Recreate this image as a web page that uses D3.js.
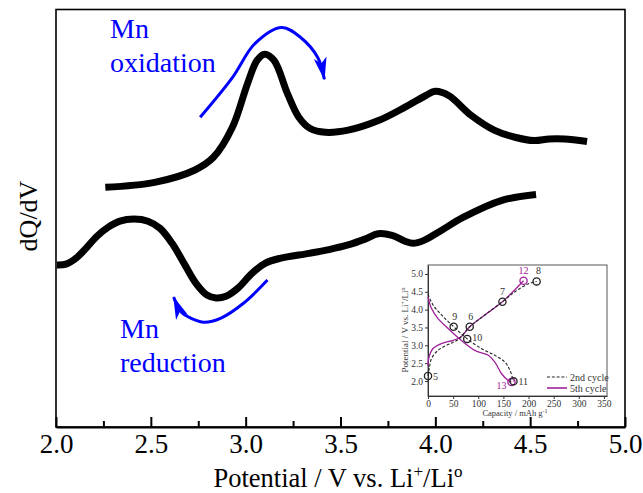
<!DOCTYPE html>
<html>
<head>
<meta charset="utf-8">
<script src="https://cdn.jsdelivr.net/npm/d3@7"></script>
<style>
  html, body { margin: 0; padding: 0; background: #fff; }
  svg { display: block; }
  text { font-family: "Liberation Serif", "Times New Roman", serif; }
</style>
</head>
<body>
<svg id="chart" width="643" height="493"></svg>
<script>
// ---------------- DATA ----------------
// Main dQ/dV panel (x: potential / V, y: dQ/dV in arbitrary units)
const xTicks = [2.0, 2.5, 3.0, 3.5, 4.0, 4.5, 5.0];
const xMinorTicks = [2.25, 2.75, 3.25, 3.75, 4.25, 4.75];

const oxV = [2.26, 2.52, 2.73, 2.83, 2.93, 3.01, 3.06, 3.10, 3.15, 3.22, 3.28, 3.34, 3.42, 3.54, 3.70, 3.84, 3.95, 4.00, 4.07, 4.19, 4.31, 4.42, 4.52, 4.60, 4.68, 4.80];
const oxY = [57.4, 58.6, 61.5, 64.6, 71.8, 82.3, 87.8, 89.3, 87.8, 79.9, 74.2, 71.5, 70.6, 71.1, 73.4, 76.6, 79.4, 80.4, 79.4, 74.6, 71.1, 69.4, 68.6, 69.0, 69.0, 68.4];

const redV = [2.005, 2.053, 2.105, 2.158, 2.216, 2.274, 2.337, 2.411, 2.485, 2.548, 2.612, 2.675, 2.738, 2.796, 2.844, 2.896, 2.960, 3.033, 3.102, 3.181, 3.334, 3.440, 3.540, 3.629, 3.698, 3.772, 3.840, 3.882, 3.940, 4.025, 4.146, 4.351, 4.531];
const redY = [38.8, 39.0, 40.4, 42.8, 45.7, 47.8, 49.3, 49.8, 49.3, 47.6, 44.0, 39.2, 34.4, 31.6, 30.9, 31.3, 33.3, 36.8, 39.2, 40.4, 41.6, 42.5, 43.6, 45.0, 46.3, 45.9, 44.5, 44.0, 44.7, 46.9, 50.2, 54.3, 55.7];

// annotation arrows (data units)
const oxArrowV = [2.76, 2.93, 3.05, 3.19, 3.29, 3.38, 3.415];
const oxArrowY = [74.2, 83.7, 91.9, 95.7, 93.3, 88.5, 83.3];
const redArrowV = [3.115, 2.99, 2.87, 2.78, 2.71, 2.665, 2.62];
const redArrowY = [35.2, 29.7, 26.1, 25.1, 26.1, 27.3, 31.1];

// Inset: charge/discharge curves (capacity / mAh g-1, potential / V)
const insetXTicks = [0, 50, 100, 150, 200, 250, 300, 350];
const insetYTicks = [2.0, 2.5, 3.0, 3.5, 4.0, 4.5, 5.0];

const c2ChargeCap = [0, 3, 7, 20, 40, 60, 83, 113, 148, 173, 199, 216];
const c2ChargeV   = [2.14, 2.40, 2.63, 2.86, 3.02, 3.16, 3.52, 3.85, 4.22, 4.50, 4.72, 4.79];
const c2DisCap = [0, 10, 27, 51, 78, 106, 133, 153, 163, 170];
const c2DisV   = [4.43, 4.13, 3.85, 3.52, 3.18, 2.91, 2.72, 2.53, 2.30, 1.99];

const c5ChargeCap = [0, 2, 10, 27, 50, 66, 83, 113, 148, 190];
const c5ChargeV   = [2.42, 2.67, 2.91, 3.05, 3.14, 3.24, 3.52, 3.85, 4.22, 4.81];
const c5DisCap = [0, 7, 20, 40, 66, 93, 120, 133, 146, 159, 166];
const c5DisV   = [4.36, 4.03, 3.75, 3.47, 3.14, 2.86, 2.72, 2.53, 2.21, 2.02, 1.97];

const pointLabels = ["5", "9", "6", "10", "7", "12", "8", "13", "11"];
const pointCap    = [0, 51, 83, 78, 148, 190, 216, 166, 170];
const pointV      = [2.14, 3.52, 3.52, 3.18, 4.22, 4.81, 4.79, 1.97, 1.99];
const pointCycle  = ["2nd", "2nd", "2nd", "2nd", "2nd", "5th", "2nd", "5th", "2nd"];

const legendLabels = ["2nd cycle", "5th cycle"];

// ---------------- DRAW ----------------
const svg = d3.select("#chart");
const FONT = '"Liberation Serif", "Times New Roman", serif';
const BLUE = "#0000ff";
const PURPLE = "#a0209c";

const x = d3.scaleLinear().domain([2, 5]).range([56, 625]);
const y = d3.scaleLinear().domain([0, 100]).range([427, 9.5]);

// frame
svg.append("rect")
  .attr("x", x.range()[0]).attr("y", y.range()[1])
  .attr("width", x.range()[1] - x.range()[0])
  .attr("height", y.range()[0] - y.range()[1])
  .attr("fill", "none").attr("stroke", "#000").attr("stroke-width", 1.6);

// x axis (ticks inward)
const xAxis = d3.axisBottom(x).tickValues(xTicks).tickFormat(d3.format(".1f"))
  .tickSizeInner(-10).tickSizeOuter(0).tickPadding(7);
const gx = svg.append("g").attr("transform", `translate(0,${y.range()[0]})`).call(xAxis);
gx.select(".domain").attr("stroke-width", 2.2);
gx.selectAll(".tick line").attr("stroke-width", 2);
gx.selectAll(".tick text").attr("font-family", FONT).attr("font-size", 27).attr("fill", "#000");
const gxm = svg.append("g").attr("transform", `translate(0,${y.range()[0]})`)
  .call(d3.axisBottom(x).tickValues(xMinorTicks).tickFormat("").tickSizeInner(-6).tickSizeOuter(0));
gxm.select(".domain").remove();
gxm.selectAll(".tick line").attr("stroke-width", 2);

// axis titles
const xt = svg.append("text").attr("x", 338).attr("y", 487).attr("text-anchor", "middle")
  .attr("font-family", FONT).attr("font-size", 26.5).attr("fill", "#000");
xt.append("tspan").text("Potential / V vs. Li");
xt.append("tspan").attr("dy", -10).attr("font-size", 17).text("+");
xt.append("tspan").attr("dy", 10).text("/Li");
xt.append("tspan").attr("dy", -10).attr("font-size", 17).text("o");

svg.append("text").attr("transform", "translate(37,216) rotate(-90)")
  .attr("text-anchor", "middle").attr("font-family", FONT).attr("font-size", 26)
  .attr("fill", "#000").text("dQ/dV");

// curves
const lineMain = d3.line().x(d => x(d[0])).y(d => y(d[1])).curve(d3.curveCatmullRom.alpha(0.5));
svg.append("path").datum(oxV.map((v, i) => [v, oxY[i]]))
  .attr("d", lineMain).attr("fill", "none").attr("stroke", "#000").attr("stroke-width", 7)
  .attr("stroke-linejoin", "round");
svg.append("path").datum(redV.map((v, i) => [v, redY[i]]))
  .attr("d", lineMain).attr("fill", "none").attr("stroke", "#000").attr("stroke-width", 7)
  .attr("stroke-linejoin", "round");

// arrow marker
const defs = svg.append("defs");
defs.append("marker").attr("id", "arrow").attr("markerUnits", "userSpaceOnUse")
  .attr("viewBox", "-24 -8 26 16").attr("refX", 0).attr("refY", 0)
  .attr("markerWidth", 26).attr("markerHeight", 16).attr("orient", "auto")
  .append("path").attr("d", "M1,0 L-22,-6.5 L-16,0 L-22,6.5 Z").attr("fill", BLUE);

const arrowLine = d3.line().x(d => x(d[0])).y(d => y(d[1])).curve(d3.curveCatmullRom.alpha(0.5));
svg.append("path").datum(oxArrowV.map((v, i) => [v, oxArrowY[i]]))
  .attr("d", arrowLine).attr("fill", "none").attr("stroke", BLUE).attr("stroke-width", 3)
  .attr("marker-end", "url(#arrow)");
svg.append("path").datum(redArrowV.map((v, i) => [v, redArrowY[i]]))
  .attr("d", arrowLine).attr("fill", "none").attr("stroke", BLUE).attr("stroke-width", 3)
  .attr("marker-end", "url(#arrow)");

// annotation text
function blueText(tx, ty, s) {
  svg.append("text").attr("x", tx).attr("y", ty).attr("font-family", FONT)
    .attr("font-size", 28).attr("fill", BLUE).text(s);
}
blueText(110, 38, "Mn");
blueText(110, 72, "oxidation");
blueText(120, 338, "Mn");
blueText(120, 372, "reduction");

// ---------------- INSET ----------------
const ix = d3.scaleLinear().domain([0, 356]).range([428, 607]);
const iy = d3.scaleLinear().domain([1.58, 5.25]).range([396, 265]);
const ig = svg.append("g");

ig.append("rect").attr("x", ix.range()[0]).attr("y", iy.range()[1])
  .attr("width", ix.range()[1] - ix.range()[0]).attr("height", iy.range()[0] - iy.range()[1])
  .attr("fill", "#fff").attr("stroke", "#555").attr("stroke-width", 1);

const igx = ig.append("g").attr("transform", `translate(0,${iy.range()[0]})`)
  .call(d3.axisBottom(ix).tickValues(insetXTicks).tickSizeInner(3).tickSizeOuter(0).tickPadding(1));
const igy = ig.append("g").attr("transform", `translate(${ix.range()[0]},0)`)
  .call(d3.axisLeft(iy).tickValues(insetYTicks).tickFormat(d3.format(".1f")).tickSizeInner(3).tickSizeOuter(0).tickPadding(2));
[igx, igy].forEach(g => {
  g.select(".domain").attr("stroke", "#333");
  g.selectAll(".tick line").attr("stroke", "#333");
  g.selectAll(".tick text").attr("font-family", FONT).attr("font-size", 9.5).attr("fill", "#333");
});

const ixt = ig.append("text").attr("x", 515).attr("y", 416).attr("text-anchor", "middle")
  .attr("font-family", FONT).attr("font-size", 8.5).attr("fill", "#333");
ixt.append("tspan").text("Capacity / mAh g");
ixt.append("tspan").attr("dy", -3.5).attr("font-size", 6).text("-1");

const iyt = ig.append("text").attr("transform", "translate(408,330) rotate(-90)")
  .attr("text-anchor", "middle").attr("font-family", FONT).attr("font-size", 9).attr("fill", "#333");
iyt.append("tspan").text("Potential / V vs. Li");
iyt.append("tspan").attr("dy", -3.5).attr("font-size", 6).text("+");
iyt.append("tspan").attr("dy", 3.5).text("/Li");
iyt.append("tspan").attr("dy", -3.5).attr("font-size", 6).text("o");

const iline = d3.line().x(d => ix(d[0])).y(d => iy(d[1])).curve(d3.curveCatmullRom.alpha(0.5));
function insetCurve(caps, vs, color, dash) {
  ig.append("path").datum(caps.map((c, i) => [c, vs[i]])).attr("d", iline)
    .attr("fill", "none").attr("stroke", color).attr("stroke-width", dash ? 1.1 : 1.3)
    .attr("stroke-dasharray", dash ? "3,1.8" : null);
}
insetCurve(c5ChargeCap, c5ChargeV, PURPLE, false);
insetCurve(c5DisCap, c5DisV, PURPLE, false);
insetCurve(c2ChargeCap, c2ChargeV, "#222", true);
insetCurve(c2DisCap, c2DisV, "#222", true);

// markers
const labelOffset = {
  "5": [5, 4, "start"], "9": [1, -7, "middle"], "6": [1, -7, "middle"], "10": [5, 2, "start"],
  "7": [0, -7, "middle"], "12": [0, -7, "middle"], "8": [2, -7, "middle"],
  "13": [-5, 7, "end"], "11": [5, 4, "start"]
};
pointLabels.forEach((lab, i) => {
  const col = pointCycle[i] === "5th" ? PURPLE : "#222";
  const cx = ix(pointCap[i]), cy = iy(pointV[i]);
  ig.append("circle").attr("cx", cx).attr("cy", cy).attr("r", 3.6)
    .attr("fill", "none").attr("stroke", col).attr("stroke-width", 1.3);
  const o = labelOffset[lab];
  ig.append("text").attr("x", cx + o[0]).attr("y", cy + o[1]).attr("text-anchor", o[2])
    .attr("font-family", FONT).attr("font-size", 10)
    .attr("fill", pointCycle[i] === "5th" ? PURPLE : "#333").text(lab);
});

// legend
legendLabels.forEach((lab, i) => {
  const ly = 377 + i * 11;
  ig.append("line").attr("x1", 547).attr("x2", 567).attr("y1", ly).attr("y2", ly)
    .attr("stroke", i === 0 ? "#222" : PURPLE).attr("stroke-width", i === 0 ? 1.2 : 1.6)
    .attr("stroke-dasharray", i === 0 ? "3,1.8" : null);
  ig.append("text").attr("x", 570).attr("y", ly + 3.5).attr("font-family", FONT)
    .attr("font-size", 10).attr("fill", "#333").text(lab);
});
</script>
</body>
</html>
